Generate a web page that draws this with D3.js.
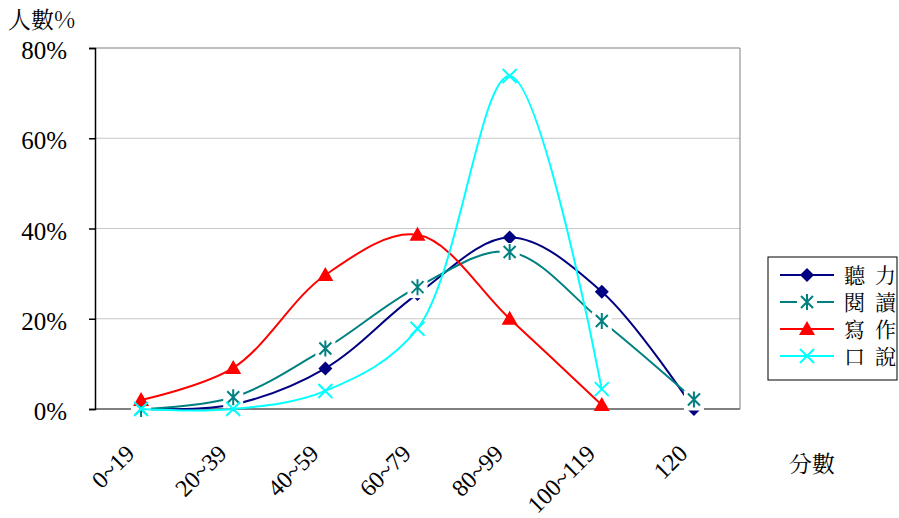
<!DOCTYPE html>
<html>
<head>
<meta charset="utf-8">
<script src="https://cdn.jsdelivr.net/npm/d3@7"></script>
<style>
  body { margin: 0; background: #fff; }
  svg { display: block; }
</style>
</head>
<body>
<div id="chart"></div>
<script>
// score bands
let categories = ["0~19", "20~39", "40~59", "60~79", "80~99", "100~119", "120"];
let seriesNames = ["聽力", "閱讀", "寫作", "口說"];
let listening = [0, 1, 9, 25.5, 38, 26, 0];
let reading = [0, 2.6, 13.4, 27, 34.8, 19.5, 2.1];
let writing = [2, 9.1, 29.7, 38.6, 20, 0.9];
let speaking = [0, 0, 4, 17.8, 73.8, 4.4];
let yTicks = [0, 20, 40, 60, 80];
let seriesColors = ["#000080", "#008080", "#ff0000", "#00ffff"];
let seriesMarkers = ["diamond", "star", "triangle", "cross"];

let width = 899, height = 518;
let margin = {left: 95, right: 159, top: 48, bottom: 109};
let serif = "'Liberation Serif', 'Times New Roman', serif";
let cjk = "'Noto Serif CJK TC', 'Noto Sans CJK TC', serif";

let svg = d3.select("#chart").append("svg")
    .attr("width", width)
    .attr("height", height);

let x = d3.scaleBand()
    .domain(categories)
    .range([margin.left, width - margin.right]);

let y = d3.scaleLinear()
    .domain([0, 80])
    .range([height - margin.bottom, margin.top]);

// grid
svg.append("g")
    .selectAll("line")
    .data(yTicks.slice(1))
    .enter().append("line")
    .attr("x1", margin.left).attr("x2", width - margin.right)
    .attr("y1", function(d) { return y(d); })
    .attr("y2", function(d) { return y(d); })
    .attr("stroke", function(d) { return d == 80 ? "#808080" : "#c8c8c8"; })
    .attr("stroke-width", 1);

// right + bottom border
svg.append("line")
    .attr("x1", width - margin.right).attr("x2", width - margin.right)
    .attr("y1", margin.top).attr("y2", height - margin.bottom)
    .attr("stroke", "#808080");
svg.append("line")
    .attr("x1", margin.left).attr("x2", width - margin.right)
    .attr("y1", y(0)).attr("y2", y(0))
    .attr("stroke", "#808080").attr("stroke-width", 2);

// y axis
let yAxis = svg.append("g")
    .attr("transform", "translate(" + margin.left + ",0)")
    .call(d3.axisLeft(y).tickValues(yTicks).tickSize(6).tickPadding(22)
        .tickFormat(function(d) { return d + "%"; }));
yAxis.select(".domain").attr("stroke", "#000").attr("stroke-width", 1.5);
yAxis.selectAll(".tick line").attr("stroke", "#000").attr("stroke-width", 1.5);
yAxis.selectAll("text")
    .attr("font-family", serif)
    .attr("font-size", 25)
    .attr("fill", "#000")
    .attr("dy", "0.42em");

// x labels
svg.append("g")
    .selectAll("text")
    .data(categories)
    .enter().append("text")
    .attr("transform", function(d) {
        return "translate(" + (x(d) + x.bandwidth() / 2 - 5) + "," + (y(0) + 46) + ") rotate(-45)";
    })
    .attr("text-anchor", "end")
    .attr("font-family", serif)
    .attr("font-size", 24)
    .text(function(d) { return d; });

// titles
svg.append("text")
    .attr("x", 8).attr("y", 28)
    .attr("font-family", cjk)
    .attr("font-size", 23)
    .text("人數%");
svg.append("text")
    .attr("x", 789).attr("y", 472)
    .attr("font-family", cjk)
    .attr("font-size", 23)
    .text("分數");

function drawMarker(g, type, color, cx, cy) {
    let s = 7;
    if (type == "diamond") {
        g.append("path")
            .attr("d", "M" + cx + "," + (cy - s) + "L" + (cx + s) + "," + cy + "L" + cx + "," + (cy + s) + "L" + (cx - s) + "," + cy + "Z")
            .attr("fill", color);
    } else if (type == "triangle") {
        g.append("path")
            .attr("d", "M" + cx + "," + (cy - 8) + "L" + (cx + 8) + "," + (cy + 6) + "L" + (cx - 8) + "," + (cy + 6) + "Z")
            .attr("fill", color);
    } else if (type == "star") {
        g.append("rect")
            .attr("x", cx - 10).attr("y", cy - 9).attr("width", 20).attr("height", 20)
            .attr("fill", "#fff");
        g.append("path")
            .attr("d", "M" + (cx - 6) + "," + (cy - 6) + "L" + (cx + 6) + "," + (cy + 6) +
                "M" + (cx + 6) + "," + (cy - 6) + "L" + (cx - 6) + "," + (cy + 6) +
                "M" + cx + "," + (cy - 8) + "L" + cx + "," + (cy + 8))
            .attr("stroke", color).attr("stroke-width", 2).attr("fill", "none");
    } else {
        g.append("path")
            .attr("d", "M" + (cx - s) + "," + (cy - s) + "L" + (cx + s) + "," + (cy + s) +
                "M" + (cx + s) + "," + (cy - s) + "L" + (cx - s) + "," + (cy + s))
            .attr("stroke", color).attr("stroke-width", 2).attr("fill", "none");
    }
}

let allSeries = [listening, reading, writing, speaking];

let line = d3.line()
    .x(function(d, i) { return x(categories[i]) + x.bandwidth() / 2; })
    .y(function(d) { return y(d); })
    .curve(d3.curveCatmullRom.alpha(0.5));

allSeries.forEach(function(values, k) {
    let g = svg.append("g");
    g.append("path")
        .attr("d", line(values))
        .attr("fill", "none")
        .attr("stroke", seriesColors[k])
        .attr("stroke-width", 2);
    values.forEach(function(v, i) {
        drawMarker(g, seriesMarkers[k], seriesColors[k], x(categories[i]) + x.bandwidth() / 2, y(v));
    });
});

// legend
let legend = svg.append("g").attr("transform", "translate(768,257)");
legend.append("rect")
    .attr("width", 129).attr("height", 123)
    .attr("fill", "#fff").attr("stroke", "#000").attr("stroke-width", 1);
seriesNames.forEach(function(name, k) {
    let ly = 18 + k * 27;
    legend.append("line")
        .attr("x1", 12).attr("x2", 66)
        .attr("y1", ly).attr("y2", ly)
        .attr("stroke", seriesColors[k]).attr("stroke-width", 2);
    drawMarker(legend, seriesMarkers[k], seriesColors[k], 39, ly);
    // chars spaced apart like the original
    legend.append("text")
        .attr("y", ly)
        .attr("dy", "0.36em")
        .attr("font-family", cjk)
        .attr("font-size", 21)
        .selectAll("tspan")
        .data(name.split(""))
        .enter().append("tspan")
        .attr("x", function(c, i) { return 76 + i * 31; })
        .text(function(c) { return c; });
});
</script>
</body>
</html>
